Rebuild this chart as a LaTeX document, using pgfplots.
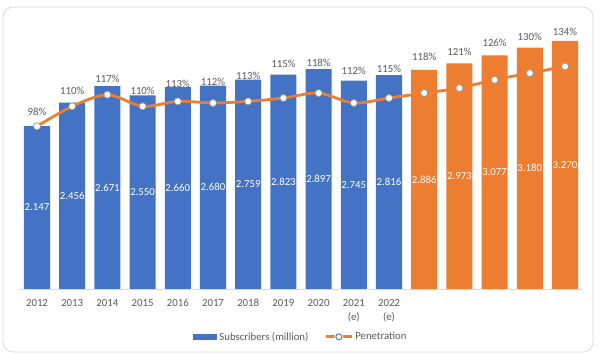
\documentclass[border=0pt]{standalone}
\usepackage{pgfplots}
\pgfplotsset{compat=1.18}
\usepackage{pgfplotstable}
\usepackage{fontspec}
\setmainfont{Carlito}
\definecolor{xblue}{HTML}{4472C4}
\definecolor{xorange}{HTML}{ED7D31}
\definecolor{xtext}{HTML}{595959}
\definecolor{xgrid}{HTML}{D9D9D9}
\pgfplotstableread{
x subs pen ly
0 2.147 98 106.6
1 2.456 110 119.2
2 2.671 117 126.5
3 2.550 110 119.2
4 2.660 113 123.6
5 2.680 112 124.8
6 2.759 113 128.3
7 2.823 115 135.5
8 2.897 118 136.3
9 2.745 112 131.3
10 2.816 115 132.5
11 2.886 118 139.9
12 2.973 121 142.7
13 3.077 126 148.3
14 3.180 130 151.9
15 3.270 134 154.9
}\datatable
\pgfplotsset{/pgf/number format/assume math mode=true,
  barlegend/.style={legend image code/.code={\fill[xblue] (0pt,-3pt) rectangle (24pt,3pt);}},
  linelegend/.style={legend image code/.code={\draw[##1, mark=none] (0pt,0pt) -- (26pt,0pt); \fill[white] (13pt,0pt) circle (3pt); \draw[xblue, line width=0.9pt] (13pt,0pt) circle (3pt);}}
}
\begin{document}
\begin{tikzpicture}[font=\fontsize{10.8}{12.5}\selectfont]
\useasboundingbox (0,0) rectangle (600pt,355pt);
\draw[xgrid, line width=0.8pt, rounded corners=10pt] (3pt,3pt) rectangle (593pt,348pt);
\begin{axis}[
  at={(19.4pt,66pt)}, anchor=south west,
  scale only axis, width=563.2pt, height=265.7pt,
  xmin=-0.5, xmax=15.5, ymin=0, ymax=3.5,
  axis x line*=bottom, axis y line=none,
  x axis line style={xgrid, line width=0.8pt, -},
  xtick=data, major tick length=0pt,
  xticklabels={2012,2013,2014,2015,2016,2017,2018,2019,2020,{2021\\(e)},{2022\\(e)},2023 (f),2024 (f),2025 (f),2026 (f),2027 (f)},
  xticklabel style={align=center, text=xtext, font=\fontsize{10.8}{14.3}\selectfont, yshift=-6.5pt},
  ybar, bar width=0.74,
  clip=false,
  legend style={at={(0.5,-0.18)}, anchor=center, draw=none, fill=none,
    legend columns=2, text=xtext, font=\fontsize{10.8}{12.5}\selectfont,
    /tikz/every even column/.append style={column sep=14pt}},
  legend cell align=left,
]
\addplot[fill=xblue, draw=none, bar shift=0pt, restrict x to domain=0:10,
  visualization depends on=y \as \rawy,
  nodes near coords={\pgfmathprintnumber[fixed,precision=3,zerofill]{\pgfplotspointmeta}},
  every node near coord/.append style={anchor=center, text=white, shift={(axis direction cs:0,-\rawy/2)}},
  barlegend
] table[x=x,y=subs]{\datatable};
\addlegendentry{Subscribers (million)}
\addplot[fill=xorange, draw=none, bar shift=0pt, restrict x to domain=11:15, forget plot,
  visualization depends on=y \as \rawy,
  nodes near coords={\pgfmathprintnumber[fixed,precision=3,zerofill]{\pgfplotspointmeta}},
  every node near coord/.append style={anchor=center, text=white, shift={(axis direction cs:0,-\rawy/2)}}
] table[x=x,y=subs]{\datatable};
\addlegendimage{xorange, line width=2.8pt, linelegend}
\addlegendentry{Penetration}
\end{axis}
\begin{axis}[
  at={(19.4pt,66pt)}, anchor=south west,
  scale only axis, width=563.2pt, height=265.7pt,
  xmin=-0.5, xmax=15.5, ymin=0, ymax=160,
  axis lines=none, clip=false,
]
\addplot[xorange, line width=2.8pt, smooth, mark=*, mark size=3.5pt,
  mark options={fill=white, draw=gray!80, line width=0.7pt}]
  table[x=x,y=pen]{\datatable};
\addplot[draw=none, mark=none, point meta=explicit,
  nodes near coords={\pgfmathprintnumber[fixed,precision=0]{\pgfplotspointmeta}\%},
  every node near coord/.append style={anchor=center, text=xtext, inner sep=0pt}]
  table[x=x,y=ly,meta=pen]{\datatable};
\end{axis}
\end{tikzpicture}
\end{document}
